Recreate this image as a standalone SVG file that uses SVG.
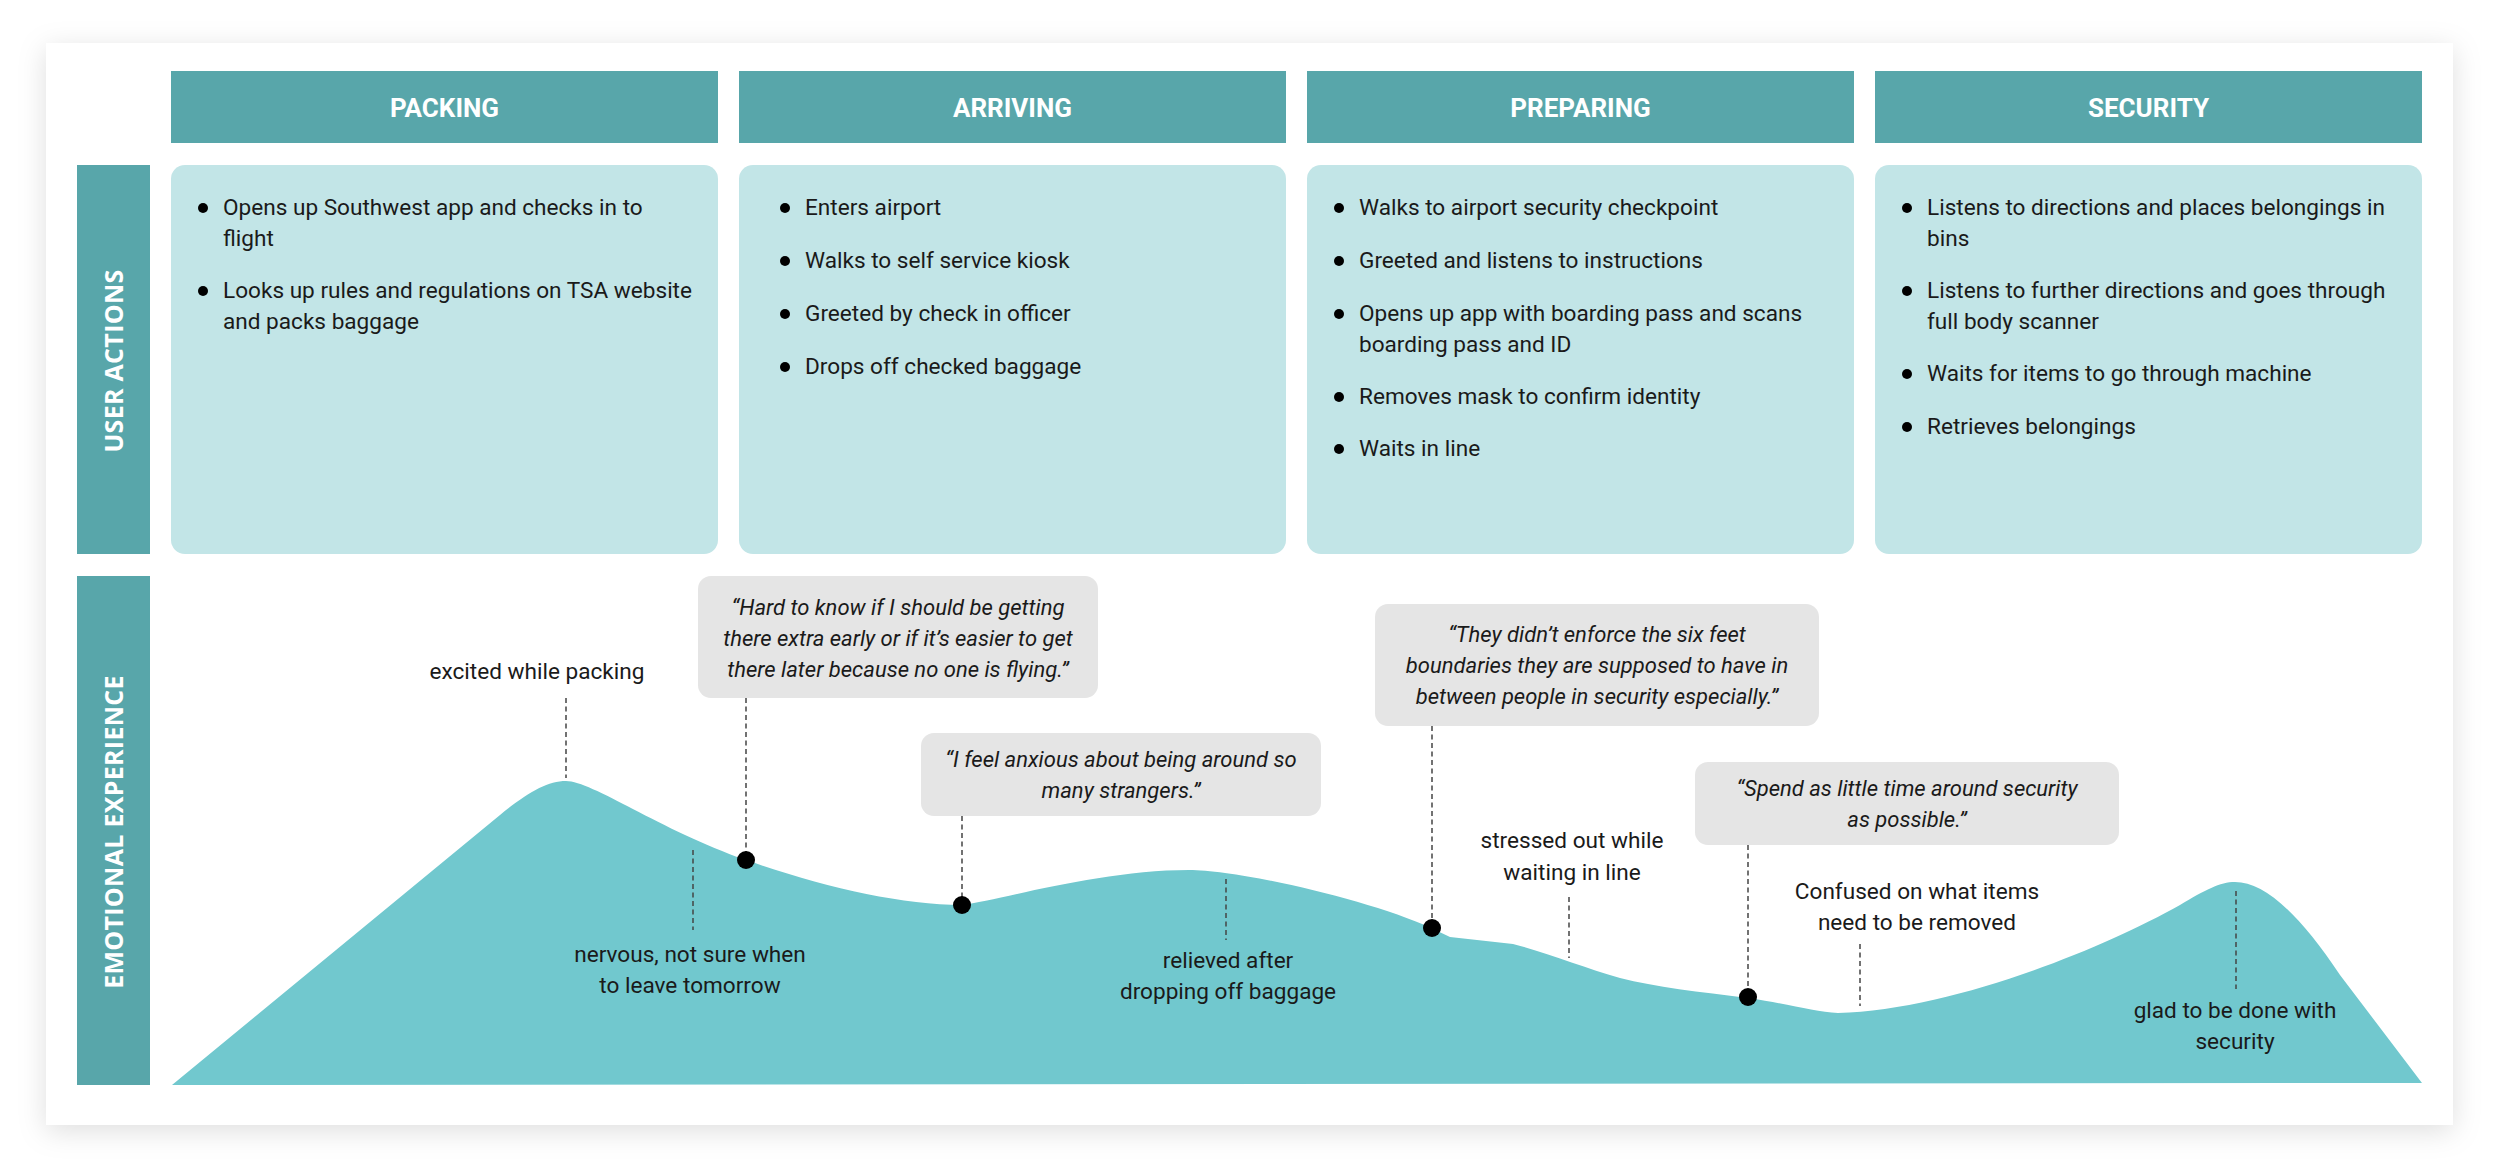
<svg xmlns="http://www.w3.org/2000/svg" width="2500" height="1174" viewBox="0 0 2500 1174">
<defs>
<filter id="shadow" x="-5%" y="-10%" width="110%" height="120%">
<feDropShadow dx="0" dy="6" stdDeviation="14" flood-color="#000" flood-opacity="0.13"/>
</filter>
<style>
.hdr{fill:#58A6AA}
.hdrt{font-family:Roboto,"Open Sans",sans-serif;font-weight:700;font-size:26px;fill:#fff;text-anchor:middle}
.side{fill:#58A6AA}
.sidet{font-family:"Open Sans",sans-serif;font-weight:700;font-size:25px;letter-spacing:0.3px;fill:#fff;text-anchor:middle}
.box{fill:#C2E5E7}
.t{font-family:Roboto,"Liberation Sans",sans-serif;font-size:22.6px;fill:#1a1a1a}
.c{text-anchor:middle}
.q{font-family:Roboto,"Liberation Sans",sans-serif;font-size:22px;font-style:italic;fill:#1a1a1a;text-anchor:middle}
.qb{fill:#E5E5E5}
.dash{stroke:#444;stroke-width:1.5;stroke-dasharray:5 3.5;fill:none}
.dot{fill:#000}
</style>
</defs>
<rect width="2500" height="1174" fill="#fff"/>
<rect x="46" y="43" width="2407" height="1082" fill="#fff" filter="url(#shadow)"/>

<g id="header-packing"><rect class="hdr" x="171" y="71" width="547" height="72"/><text class="hdrt" x="444.5" y="117">PACKING</text></g>
<g id="header-arriving"><rect class="hdr" x="739" y="71" width="547" height="72"/><text class="hdrt" x="1012.5" y="117">ARRIVING</text></g>
<g id="header-preparing"><rect class="hdr" x="1307" y="71" width="547" height="72"/><text class="hdrt" x="1580.5" y="117">PREPARING</text></g>
<g id="header-security"><rect class="hdr" x="1875" y="71" width="547" height="72"/><text class="hdrt" x="2148.5" y="117">SECURITY</text></g>

<g id="side-user-actions"><rect class="side" x="77" y="165" width="73" height="389"/><text class="sidet" transform="translate(123,361) rotate(-90)">USER ACTIONS</text></g>
<g id="side-emotional"><rect class="side" x="77" y="576" width="73" height="509"/><text class="sidet" transform="translate(123,832) rotate(-90)">EMOTIONAL EXPERIENCE</text></g>

<g id="actions-packing">
<rect class="box" x="171" y="165" width="547" height="389" rx="14"/>
<circle class="dot" cx="203" cy="208" r="5"/>
<text class="t" x="223" y="215">Opens up Southwest app and checks in to</text>
<text class="t" x="223" y="246">flight</text>
<circle class="dot" cx="203" cy="291" r="5"/>
<text class="t" x="223" y="298">Looks up rules and regulations on TSA website</text>
<text class="t" x="223" y="329">and packs baggage</text>
</g>
<g id="actions-arriving">
<rect class="box" x="739" y="165" width="547" height="389" rx="14"/>
<circle class="dot" cx="785" cy="208" r="5"/>
<text class="t" x="805" y="215">Enters airport</text>
<circle class="dot" cx="785" cy="261" r="5"/>
<text class="t" x="805" y="268">Walks to self service kiosk</text>
<circle class="dot" cx="785" cy="314" r="5"/>
<text class="t" x="805" y="321">Greeted by check in officer</text>
<circle class="dot" cx="785" cy="367" r="5"/>
<text class="t" x="805" y="374">Drops off checked baggage</text>
</g>
<g id="actions-preparing">
<rect class="box" x="1307" y="165" width="547" height="389" rx="14"/>
<circle class="dot" cx="1339" cy="208" r="5"/>
<text class="t" x="1359" y="215">Walks to airport security checkpoint</text>
<circle class="dot" cx="1339" cy="261" r="5"/>
<text class="t" x="1359" y="268">Greeted and listens to instructions</text>
<circle class="dot" cx="1339" cy="314" r="5"/>
<text class="t" x="1359" y="321">Opens up app with boarding pass and scans</text>
<text class="t" x="1359" y="352">boarding pass and ID</text>
<circle class="dot" cx="1339" cy="397" r="5"/>
<text class="t" x="1359" y="404">Removes mask to confirm identity</text>
<circle class="dot" cx="1339" cy="449" r="5"/>
<text class="t" x="1359" y="456">Waits in line</text>
</g>
<g id="actions-security">
<rect class="box" x="1875" y="165" width="547" height="389" rx="14"/>
<circle class="dot" cx="1907" cy="208" r="5"/>
<text class="t" x="1927" y="215">Listens to directions and places belongings in</text>
<text class="t" x="1927" y="246">bins</text>
<circle class="dot" cx="1907" cy="291" r="5"/>
<text class="t" x="1927" y="298">Listens to further directions and goes through</text>
<text class="t" x="1927" y="329">full body scanner</text>
<circle class="dot" cx="1907" cy="374" r="5"/>
<text class="t" x="1927" y="381">Waits for items to go through machine</text>
<circle class="dot" cx="1907" cy="427" r="5"/>
<text class="t" x="1927" y="434">Retrieves belongings</text>
</g>

<g id="emotion-curve">
<path fill="#71C8CE" d="M172,1085 L500,815 C527,793 547,781 566,781 C592,781 660,830 746,860 C820,886 900,905 962,905 C1000,900 1100,870 1189,870 C1240,870 1370,900 1431,928 L1450,937 L1513,944 C1545,952 1585,968 1620,978 C1655,987 1700,992 1748,998 C1790,1004 1815,1012 1838,1013 C1950,1010 2100,950 2180,905 C2205,890 2220,882 2235,882 C2265,882 2300,915 2340,975 L2422,1083 Z"/>
</g>

<g id="connectors">
<line class="dash" x1="566" y1="698" x2="566" y2="778"/>
<line class="dash" x1="746" y1="698" x2="746" y2="852"/>
<line class="dash" x1="693" y1="850" x2="693" y2="930"/>
<line class="dash" x1="962" y1="816" x2="962" y2="897"/>
<line class="dash" x1="1226" y1="879" x2="1226" y2="940"/>
<line class="dash" x1="1432" y1="726" x2="1432" y2="920"/>
<line class="dash" x1="1569" y1="897" x2="1569" y2="958"/>
<line class="dash" x1="1748" y1="845" x2="1748" y2="989"/>
<line class="dash" x1="1860" y1="944" x2="1860" y2="1006"/>
<line class="dash" x1="2236" y1="891" x2="2236" y2="989"/>
</g>

<g id="dots">
<circle class="dot" cx="746" cy="860" r="9"/>
<circle class="dot" cx="962" cy="905" r="9"/>
<circle class="dot" cx="1432" cy="928" r="9"/>
<circle class="dot" cx="1748" cy="997" r="9"/>
</g>

<g id="label-excited"><text class="t c" x="537" y="679">excited while packing</text></g>
<g id="label-nervous"><text class="t c" x="690" y="962">nervous, not sure when</text><text class="t c" x="690" y="993">to leave tomorrow</text></g>
<g id="label-relieved"><text class="t c" x="1228" y="968">relieved after</text><text class="t c" x="1228" y="999">dropping off baggage</text></g>
<g id="label-stressed"><text class="t c" x="1572" y="848">stressed out while</text><text class="t c" x="1572" y="880">waiting in line</text></g>
<g id="label-confused"><text class="t c" x="1917" y="899">Confused on what items</text><text class="t c" x="1917" y="930">need to be removed</text></g>
<g id="label-glad"><text class="t c" x="2235" y="1018">glad to be done with</text><text class="t c" x="2235" y="1049">security</text></g>

<g id="quote-hard">
<rect class="qb" x="698" y="576" width="400" height="122" rx="13"/>
<text class="q" x="898" y="615">“Hard to know if I should be getting</text>
<text class="q" x="898" y="646">there extra early or if it’s easier to get</text>
<text class="q" x="898" y="677">there later because no one is flying.”</text>
</g>
<g id="quote-anxious">
<rect class="qb" x="921" y="733" width="400" height="83" rx="13"/>
<text class="q" x="1121" y="767">“I feel anxious about being around so</text>
<text class="q" x="1121" y="798">many strangers.”</text>
</g>
<g id="quote-six-feet">
<rect class="qb" x="1375" y="604" width="444" height="122" rx="13"/>
<text class="q" x="1597" y="642">“They didn’t enforce the six feet</text>
<text class="q" x="1597" y="673">boundaries they are supposed to have in</text>
<text class="q" x="1597" y="704">between people in security especially.”</text>
</g>
<g id="quote-spend">
<rect class="qb" x="1695" y="762" width="424" height="83" rx="13"/>
<text class="q" x="1907" y="796">“Spend as little time around security</text>
<text class="q" x="1907" y="827">as possible.”</text>
</g>
</svg>
